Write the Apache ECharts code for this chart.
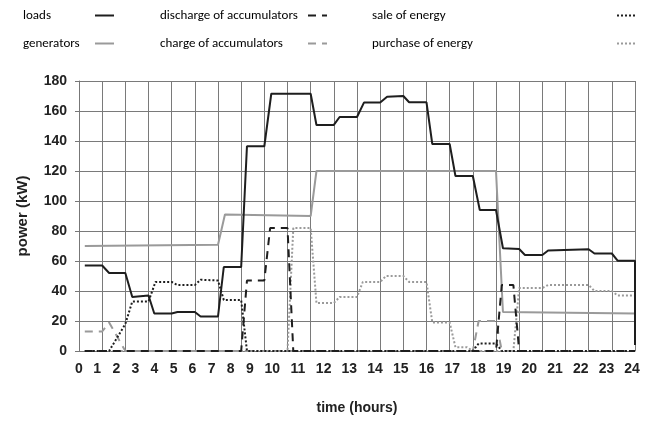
<!DOCTYPE html>
<html><head><meta charset="utf-8">
<script src="https://cdn.jsdelivr.net/npm/echarts@6/dist/echarts.min.js"></script>
<style>html,body{margin:0;padding:0;background:#fff}#c{width:656px;height:424px}</style>
</head><body><div id="c"></div>
<script>
// ---- data (time in hours, power in kW) ----
const xTickLabels = ['0','1','2','3','4','5','6','7','8','9','10','11','12','13','14','15','16','17','18','19','20','21','22','23','24'];
// positions (in hours) where the typed tick labels sit under the axis
const xTickPos = [0,0.78,1.61,2.43,3.25,4.08,4.90,5.73,6.55,7.38,8.34,9.45,10.56,11.67,12.78,13.89,15.0,16.11,17.22,18.33,19.44,20.55,21.66,22.77,23.87];

const loadsT = [0.25,1,1.3,2,2.3,3,3.25,4,4.25,5,5.25,6,6.25,7,7.25,8,8.3,10,10.25,11,11.25,12,12.3,13,13.3,14,14.25,15,15.25,16,16.25,17,17.3,18,18.3,19,19.25,20,20.25,22,22.25,23,23.25,24,24];
const loadsV = [57,57,52,52,36,37,25,25,26,26,23,23,56,56,136.5,136.5,171.5,171.5,150.7,150.7,156,156,165.6,165.6,169.5,170,165.8,165.8,138,138,116.7,116.7,94,94,68.5,68,64,64,67,67.8,65,65,60.2,60.2,4];

const genT = [0.25,6,6.3,10,10.25,18,18.3,24];
const genV = [70,70.8,91,90,120,120,26,25];

const dischT = [0.25,7,7.25,8,8.25,9,9.25,18,18.25,18.75,19,24];
const dischV = [0,0,47,47,82,82,0,0,44,44,0,0];

const chargeT = [0.25,1,1.3,2,17,17.25,18,18.25,24];
const chargeV = [13,13,19,0,0,20,20,0,0];

const saleT = [0.25,1.3,2,2.3,3,3.3,4,4.25,5,5.25,6,6.25,7,7.25,17,17.25,18,18.25,24];
const saleV = [0,0,18,33,33,46,46,44,44,47.5,47,34,34,0,0,5,5,0,0];

const purchT = [0.25,9,9.25,10,10.25,11,11.25,12,12.25,13,13.25,14,14.25,15,15.25,16,16.25,16.75,17,18.75,19,20,20.25,22,22.25,23,23.25,24];
const purchV = [0,0,82,82,32,32,36,36,46,46,50,50,46,46,19,19,2.5,2.5,0,0,42,42,44,44,40,40,37,37];

// ---- chart ----
const zip = (t, v) => t.map((x, i) => [x, v[i]]);
const BLACK = '#1e1e1e', GREY = '#9a9a9a';
const legendFont = "Carlito, Lato, 'Open Sans', sans-serif";
const axisFont = "'Liberation Sans', Arial, sans-serif";

// fit the legend font so the longest label has the reference width
function fitSize(text, family, target) {
  try {
    const ctx = document.createElement('canvas').getContext('2d');
    ctx.font = '20px ' + family;
    const w = ctx.measureText(text).width;
    return Math.max(10, Math.min(18, 20 * target / w));
  } catch (e) { return 13; }
}
const legendSize = fitSize('discharge of accumulators', legendFont, 138);

function mk(name, t, v, color, type, z) {
  return {
    name, type: 'line', data: zip(t, v), showSymbol: false, symbol: 'none',
    xAxisIndex: 0, yAxisIndex: 0, z,
    itemStyle: { color },
    lineStyle: { color, width: 2, type },
    animation: false
  };
}

function legendCol(left, names, boxW) {
  return {
    orient: 'vertical', left, top: 9, padding: 0, itemGap: 15, align: 'right',
    itemWidth: 19, itemHeight: 14, selectedMode: false,
    itemStyle: { opacity: 0 },
    data: names,
    formatter: n => '{t|' + n + '}',
    textStyle: {
      rich: { t: { width: boxW, align: 'left', fontFamily: legendFont, fontSize: legendSize, color: '#000', lineHeight: 16 } }
    }
  };
}

const chart = echarts.init(document.getElementById('c'), null, { renderer: 'canvas' });
chart.setOption({
  animation: false,
  backgroundColor: '#fff',
  grid: { left: 79, right: 21, top: 81, bottom: 73, containLabel: false },
  legend: [
    legendCol(23, ['loads', 'generators'], 67),
    legendCol(160, ['discharge of accumulators', 'charge of accumulators'], 143),
    legendCol(372, ['sale of energy', 'purchase of energy'], 240)
  ],
  xAxis: [
    {
      type: 'value', min: 0, max: 24, interval: 1,
      axisLine: { show: true, lineStyle: { color: '#777', width: 1 } },
      axisTick: { show: false },
      axisLabel: { show: false },
      splitLine: { show: true, lineStyle: { color: '#7a7a7a', width: 1 } },
      name: 'time (hours)', nameLocation: 'middle', nameGap: 50,
      nameTextStyle: { fontFamily: axisFont, fontSize: 14, fontWeight: 'bold', color: '#222' }
    },
    {
      type: 'value', min: 0, max: 24, position: 'bottom',
      axisLine: { show: false }, axisTick: { show: false }, splitLine: { show: false },
      axisLabel: {
        customValues: xTickPos,
        formatter: function (v) {
          let best = 0, d = 1e9;
          xTickPos.forEach((p, i) => { if (Math.abs(p - v) < d) { d = Math.abs(p - v); best = i; } });
          return xTickLabels[best];
        },
        margin: 11, fontFamily: axisFont, fontSize: 14, fontWeight: 'bold', color: '#222',
        showMinLabel: true, showMaxLabel: true, hideOverlap: false
      }
    }
  ],
  yAxis: {
    type: 'value', min: 0, max: 180, interval: 20,
    axisLine: { show: true, lineStyle: { color: '#777', width: 1 } },
    axisTick: { show: true, length: 4, lineStyle: { color: '#777' } },
    axisLabel: { margin: 12, fontFamily: axisFont, fontSize: 14, fontWeight: 'bold', color: '#222' },
    splitLine: { show: true, lineStyle: { color: '#7a7a7a', width: 1 } },
    name: 'power (kW)', nameLocation: 'middle', nameGap: 49, nameRotate: 90,
    nameTextStyle: { fontFamily: axisFont, fontSize: 15, fontWeight: 'bold', color: '#222' }
  },
  series: [
    mk('purchase of energy', purchT, purchV, GREY, [2, 2], 2),
    mk('charge of accumulators', chargeT, chargeV, GREY, [8, 6], 2),
    mk('generators', genT, genV, GREY, 'solid', 3),
    mk('sale of energy', saleT, saleV, BLACK, [2, 2], 4),
    mk('discharge of accumulators', dischT, dischV, BLACK, [8, 6], 4),
    mk('loads', loadsT, loadsV, BLACK, 'solid', 5)
  ]
});
</script>
</body></html>
